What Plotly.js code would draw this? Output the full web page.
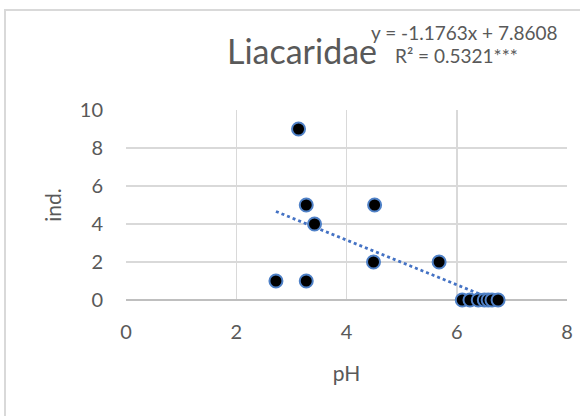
<!DOCTYPE html>
<html>
<head>
<meta charset="utf-8">
<script src="https://cdn.plot.ly/plotly-3.0.1.min.js"></script>
<style>
  html, body { margin: 0; padding: 0; background: #ffffff; }
  #wrap { position: relative; width: 580px; height: 416px; overflow: hidden; }
  #frame { position: absolute; left: 4px; top: 9px; width: 620px; height: 460px; border: 2px solid #d9d9d9; box-sizing: border-box; }
  #chart { position: absolute; left: 0; top: 0; width: 580px; height: 416px; }
</style>
</head>
<body>
<div id="wrap">
  <div id="frame"></div>
  <div id="chart"></div>
</div>
<script>
// Data
const ph  = [2.72, 3.13, 3.27, 3.27, 3.42, 4.49, 4.51, 5.68, 6.10, 6.24, 6.39, 6.50, 6.57, 6.64, 6.75];
const ind = [1,    9,    5,    1,    4,    2,    5,    2,    0,    0,    0,    0,    0,    0,    0];
// Regression from the chart label
const slope = -1.1763;
const intercept = 7.8608;
const eqText = "y = -1.1763x + 7.8608";
const r2Text = "R² = 0.5321***";
const titleText = "Liacaridae";
const xTickVals = [0, 2, 4, 6, 8];
const yTickVals = [0, 2, 4, 6, 8, 10];

const xmin = Math.min.apply(null, ph);
const xmax = Math.max.apply(null, ph);
const trendX = [xmin, xmax];
const trendY = trendX.map(function (x) { return slope * x + intercept; });

const FONT = 'Lato, "Open Sans", sans-serif';
const GREY = '#595959';

const traces = [
  {
    x: trendX, y: trendY, mode: 'lines', type: 'scatter',
    line: { color: '#4472c4', width: 2.8, dash: 'dot' },
    hoverinfo: 'skip', showlegend: false, cliponaxis: false
  },
  {
    x: ph, y: ind, mode: 'markers', type: 'scatter',
    marker: { size: 13, color: '#000000', line: { color: '#4f81c7', width: 2 } },
    showlegend: false, cliponaxis: false
  }
];

const layout = {
  width: 580, height: 416,
  paper_bgcolor: 'rgba(0,0,0,0)', plot_bgcolor: 'rgba(0,0,0,0)',
  margin: { l: 126, r: 13, t: 110, b: 116 },
  font: { family: FONT, color: GREY },
  title: {
    text: titleText,
    font: { family: FONT, size: 34, color: GREY },
    xref: 'container', x: 302 / 580, xanchor: 'center',
    yref: 'container', y: 1 - 52 / 416, yanchor: 'middle'
  },
  xaxis: {
    range: [0, 8], tickvals: xTickVals, ticks: '',
    showgrid: true, gridcolor: '#d9d9d9', gridwidth: 1.5,
    zeroline: false, showline: false,
    tickfont: { family: FONT, size: 20, color: GREY },
    ticklabelstandoff: 18,
    title: { text: 'pH', font: { family: FONT, size: 21, color: GREY }, standoff: 24 }
  },
  yaxis: {
    range: [0, 10], tickvals: yTickVals, ticks: '',
    showgrid: true, gridcolor: '#d9d9d9', gridwidth: 1.5,
    zeroline: true, zerolinecolor: '#bfbfbf', zerolinewidth: 2,
    showline: false,
    tickfont: { family: FONT, size: 20, color: GREY },
    ticklabelstandoff: 22,
    title: { text: 'ind.', font: { family: FONT, size: 21, color: GREY }, standoff: 12 }
  },
  annotations: [
    { text: eqText, xref: 'paper', yref: 'paper', x: (464 - 126) / 441, y: (300 - 32) / 190,
      xanchor: 'center', yanchor: 'middle', showarrow: false,
      font: { family: FONT, size: 19, color: GREY } },
    { text: r2Text, xref: 'paper', yref: 'paper', x: (456 - 126) / 441, y: (300 - 55) / 190,
      xanchor: 'center', yanchor: 'middle', showarrow: false,
      font: { family: FONT, size: 19, color: GREY } }
  ]
};

Plotly.newPlot('chart', traces, layout, { staticPlot: true, displayModeBar: false });
</script>
</body>
</html>
